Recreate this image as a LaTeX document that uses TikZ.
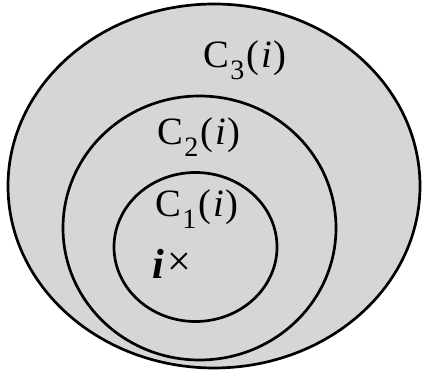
\documentclass[tikz,border=0pt]{standalone}
\usepackage{fontspec}
\setmainfont{Liberation Serif}
\usetikzlibrary{positioning}
\definecolor{shade}{HTML}{D6D6D6}
\newcommand{\clab}[1]{C\kern1pt\raisebox{-0.32em}{\fontsize{24}{26}\selectfont #1}\kern2pt(\kern1.5pt\textit{i}\kern1.5pt)}
\tikzset{
  ring/.style={draw=black,line width=2.3pt,fill=shade},
  setlabel/.style={font=\fontsize{33}{35}\selectfont,inner sep=0pt},
  pointlabel/.style={font=\fontsize{36}{38}\selectfont\bfseries\itshape,inner sep=0pt}
}
\begin{document}
\begin{tikzpicture}[x=0.03cm,y=0.03cm]
\path[use as bounding box,fill=white] (0,0) rectangle (422,375);
\draw[ring] (214,189) ellipse [x radius=206,y radius=182];
\draw[ring] (199.5,147) ellipse [x radius=136.5,y radius=132];
\draw[ring] (195.5,128) ellipse [x radius=81.5,y radius=74.5];
\node[setlabel] (c3) at (245,315) {\clab{3}};
\node[setlabel] (c2) at (199,238) {\clab{2}};
\node[setlabel] (c1) at (197,166) {\clab{1}};
\node[pointlabel] (pt) at (158,111) {i};
\node[font=\fontsize{36}{38}\selectfont,inner sep=0pt] (mark) at (179,111) {×};
\end{tikzpicture}
\end{document}
